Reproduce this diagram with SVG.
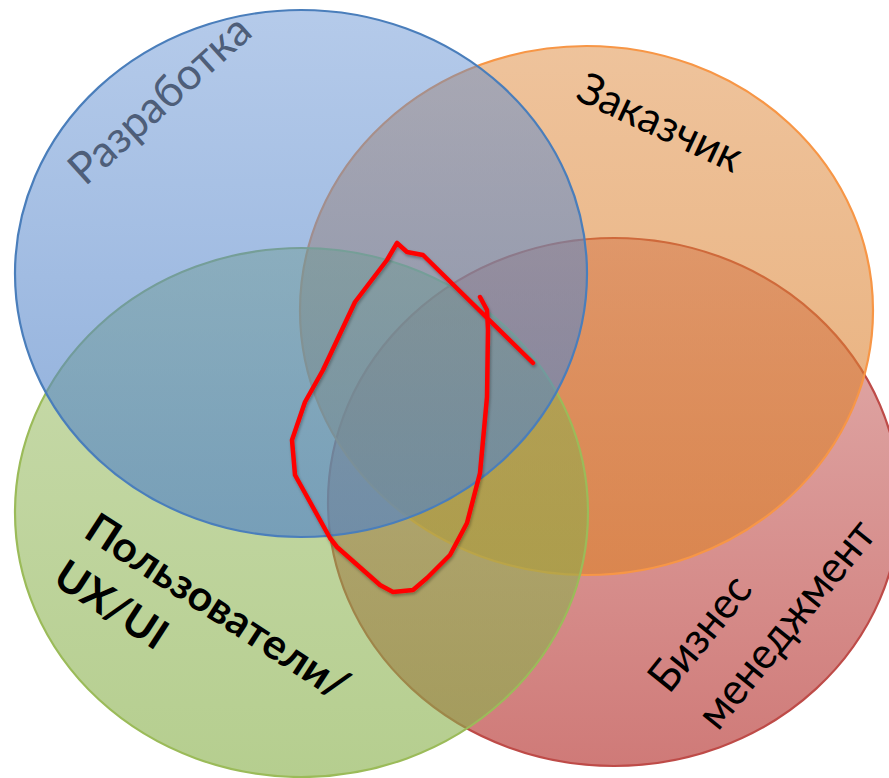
<svg xmlns="http://www.w3.org/2000/svg" width="889" height="778" viewBox="0 0 889 778">
  <style>
    .lbl { font-family: Lato, "Open Sans", "Liberation Sans", sans-serif; font-size: 44px; fill: #000; }
    .bold { font-weight: bold; font-size: 42px; }
    .dev { fill: #4E5E79; }
    .ring { stroke-width: 2.2; }
  </style>
  <defs>
    <linearGradient id="gBlue" x1="0" y1="0" x2="0" y2="1">
      <stop offset="0" stop-color="#5A8AD0" stop-opacity="0.45"/>
      <stop offset="1" stop-color="#5283C6" stop-opacity="0.66"/>
    </linearGradient>
    <linearGradient id="gOrange" x1="0" y1="0" x2="0" y2="1">
      <stop offset="0" stop-color="#DC8230" stop-opacity="0.48"/>
      <stop offset="1" stop-color="#DC8230" stop-opacity="0.66"/>
    </linearGradient>
    <linearGradient id="gGreen" x1="0" y1="0" x2="0" y2="1">
      <stop offset="0" stop-color="#88B04A" stop-opacity="0.45"/>
      <stop offset="1" stop-color="#88B04A" stop-opacity="0.62"/>
    </linearGradient>
    <linearGradient id="gRed" x1="0" y1="0" x2="0" y2="1">
      <stop offset="0" stop-color="#C0504D" stop-opacity="0.45"/>
      <stop offset="1" stop-color="#C0504D" stop-opacity="0.76"/>
    </linearGradient>
    <filter id="sh" x="-10%" y="-10%" width="120%" height="120%">
      <feDropShadow dx="1" dy="2" stdDeviation="1.5" flood-color="#000" flood-opacity="0.3"/>
    </filter>
  </defs>

  <g id="node-business">
    <ellipse class="ring" cx="614" cy="502" rx="286" ry="264" fill="url(#gRed)" stroke="#BE4B48"/>
    <text class="lbl" transform="translate(669,695) rotate(-51)" textLength="135" lengthAdjust="spacingAndGlyphs">Бизнес</text>
    <text class="lbl" transform="translate(718,732) rotate(-51)" textLength="254" lengthAdjust="spacingAndGlyphs">менеджмент</text>
  </g>

  <g id="node-customer">
    <ellipse class="ring" cx="586.5" cy="310.5" rx="286.5" ry="264.5" fill="url(#gOrange)" stroke="#F79646"/>
    <text class="lbl" transform="translate(574,99) rotate(25)" textLength="176" lengthAdjust="spacingAndGlyphs">Заказчик</text>
  </g>

  <g id="node-users">
    <ellipse class="ring" cx="301.5" cy="512.5" rx="286.5" ry="264.5" fill="url(#gGreen)" stroke="#9BBB59"/>
    <text class="lbl bold" transform="translate(82,536) rotate(33)" textLength="304" lengthAdjust="spacingAndGlyphs">Пользователи/</text>
    <text class="lbl bold" transform="translate(51,583) rotate(33)" textLength="125" lengthAdjust="spacingAndGlyphs">UX/UI</text>
  </g>

  <g id="node-dev">
    <ellipse class="ring" cx="301" cy="273.5" rx="286" ry="263.5" fill="url(#gBlue)" stroke="#4A7EBB"/>
    <text class="lbl dev" transform="translate(85,187) rotate(-42)" textLength="228" lengthAdjust="spacingAndGlyphs">Разработка</text>
  </g>

  <g id="connectors">
    <path filter="url(#sh)" fill="none" stroke="#FF0000" stroke-width="4.5" stroke-linejoin="round" stroke-linecap="round"
      d="M533,363 L423,255 L407,252 L397,243 L387,260 L355,302 L323,370 L305,402 L292,440 L295,475 L305,493 L330,538 L337,547 L380,585 L393,592 L413,590 L427,578 L450,555 L467,523 L480,473 L487,397 L488,330 L487,310 L480,297"/>
  </g>
</svg>
